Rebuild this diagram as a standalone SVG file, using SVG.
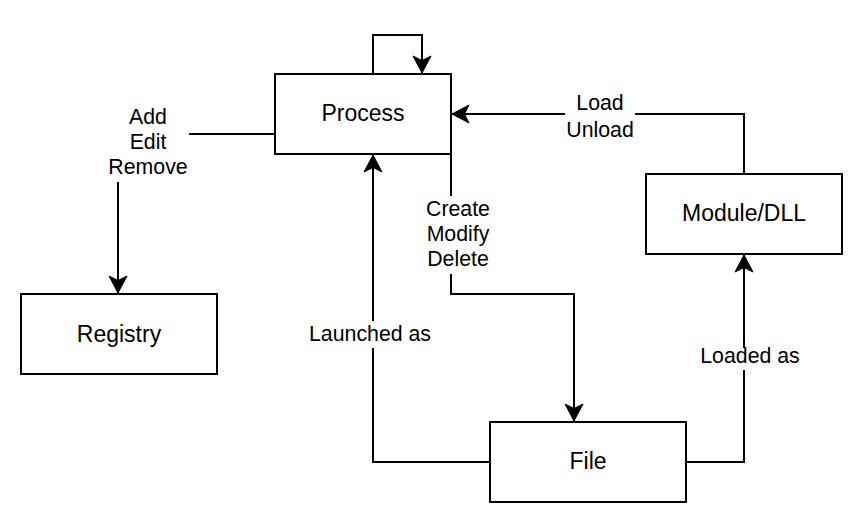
<svg xmlns="http://www.w3.org/2000/svg" width="863" height="523" viewBox="0 0 863 523">
<style>
.box{fill:#fff;stroke:#000;stroke-width:2}
.node{font-family:"Liberation Sans",Arial,sans-serif;font-size:23px;fill:#000;text-anchor:middle}
.lbl{font-family:"Liberation Sans",Arial,sans-serif;font-size:21.3px;fill:#000;text-anchor:middle}
.edge{fill:none;stroke:#000;stroke-width:2}
.bg{fill:#fff}
</style>
<defs>
<marker id="arr" markerUnits="userSpaceOnUse" viewBox="-18 -10 19 20" refX="0" refY="0" markerWidth="19" markerHeight="20" orient="auto">
<path d="M-17,-9 L0,0 L-17,9 L-12.5,0 Z" fill="#000" stroke="#000" stroke-width="1"/>
</marker>
</defs>
<rect width="863" height="523" fill="#fff"/>
<g id="connectors">
<path class="edge" d="M373,74 V35 H422 V73" marker-end="url(#arr)"/>
<path class="edge" d="M275,134 H118 V293" marker-end="url(#arr)"/>
<path class="edge" d="M451,154 V294 H574 V421" marker-end="url(#arr)"/>
<path class="edge" d="M490,462 H373 V155" marker-end="url(#arr)"/>
<path class="edge" d="M686,462 H744 V255" marker-end="url(#arr)"/>
<path class="edge" d="M744,174 V114 H452" marker-end="url(#arr)"/>
<rect class="bg" x="107" y="98" width="82" height="84"/>
<text class="lbl" x="148" y="124">Add</text>
<text class="lbl" x="148" y="149">Edit</text>
<text class="lbl" x="148" y="174">Remove</text>
<rect class="bg" x="424" y="196" width="68" height="78"/>
<text class="lbl" x="458" y="216">Create</text>
<text class="lbl" x="458" y="241">Modify</text>
<text class="lbl" x="458" y="266">Delete</text>
<rect class="bg" x="306" y="321" width="130" height="27"/>
<text class="lbl" x="370" y="341">Launched as</text>
<rect class="bg" x="697" y="348" width="106" height="22"/>
<text class="lbl" x="750" y="363">Loaded as</text>
<rect class="bg" x="565" y="90" width="70" height="52"/>
<text class="lbl" x="600" y="110">Load</text>
<text class="lbl" x="600" y="137">Unload</text>
</g>
<g id="process">
<rect class="box" x="275" y="74" width="176" height="80"/>
<text class="node" x="363" y="121">Process</text>
</g>
<g id="registry">
<rect class="box" x="21" y="294" width="196" height="80"/>
<text class="node" x="119" y="342">Registry</text>
</g>
<g id="file">
<rect class="box" x="490" y="422" width="196" height="80"/>
<text class="node" x="588" y="469">File</text>
</g>
<g id="module">
<rect class="box" x="646" y="174" width="196" height="80"/>
<text class="node" x="744" y="221">Module/DLL</text>
</g>
</svg>
